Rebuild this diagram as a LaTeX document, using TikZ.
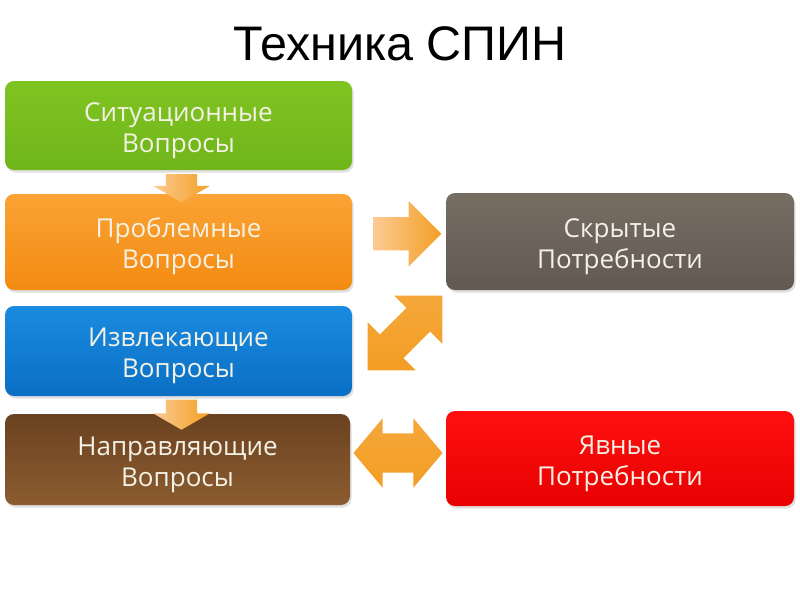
\documentclass[tikz,border=0pt]{standalone}
\usepackage{fontspec}
\setmainfont{Open Sans}
\newfontfamily\titlefont{Liberation Sans}
\usetikzlibrary{shapes.arrows,shadows,calc}

\definecolor{boxtext}{HTML}{F4F1E6}
\definecolor{arrowlight}{HTML}{FCCB93}
\definecolor{arrowdark}{HTML}{F39E24}

%	two lines of box text, set a little low
\newcommand{\twolines}[2]{\raisebox{0pt}[\height][\dimexpr\depth-10pt\relax]{\begin{tabular}{@{}c@{}}#1\\#2\end{tabular}}}

\tikzset{
	box/.style = {rounded corners = 9pt, minimum width = 347pt, minimum height = 92pt,
		inner sep = 0pt, text = boxtext,
		font = \fontsize{26}{31}\selectfont,
		drop shadow = {opacity = 0.25, shadow xshift = 1.5pt, shadow yshift = -2.5pt}},
	downarrow/.style = {single arrow, inner xsep = 0pt, inner ysep = 15.5pt, rotate = -90,
		single arrow head extend = 12.5pt, single arrow tip angle = 120,
		left color = arrowlight, right color = arrowdark},
	dblarrow/.style = {double arrow, inner xsep = 0pt,
		top color = arrowdark!80!arrowlight, bottom color = arrowdark}
}

\begin{document}
\begin{tikzpicture}[x = 1pt, y = -1pt]
	%	page
	\useasboundingbox[fill = white] (0, 0) rectangle (800, 600);
	
	%	title
	\node (title) at (400, 44) {\titlefont\fontsize{48.5}{48.5}\selectfont Техника СПИН};
	
	%	questions
	\node[box, top color = {rgb,255:red,128;green,196;blue,34}, bottom color = {rgb,255:red,112;green,181;blue,26}, minimum height = 89pt] (sit) at (178.5, 125.5) {\twolines{Ситуационные}{Вопросы}};
	\node[box, top color = {rgb,255:red,250;green,163;blue,52}, bottom color = {rgb,255:red,244;green,139;blue,18}, minimum height = 96pt] (prob) at (178.5, 242) {\twolines{Проблемные}{Вопросы}};
	\node[box, top color = {rgb,255:red,26;green,139;blue,224}, bottom color = {rgb,255:red,10;green,111;blue,196}, minimum height = 90pt] (izv) at (178.5, 351) {\twolines{Извлекающие}{Вопросы}};
	\node[box, top color = {rgb,255:red,106;green,66;blue,32}, bottom color = {rgb,255:red,140;green,92;blue,48}, minimum width = 345pt, minimum height = 91pt] (napr) at (177.5, 459.5) {\twolines{Направляющие}{Вопросы}};
	
	%	needs
	\node[box, top color = {rgb,255:red,118;green,109;blue,99}, bottom color = {rgb,255:red,98;green,90;blue,82}, minimum width = 348pt, minimum height = 97pt] (hid) at (620, 241.5) {\twolines{Скрытые}{Потребности}};
	\node[box, top color = {rgb,255:red,255;green,16;blue,16}, bottom color = {rgb,255:red,232;green,0;blue,0}, minimum width = 348pt, minimum height = 95pt] (expl) at (620, 458.5) {\twolines{Явные}{Потребности}};
	
	%	arrows
	\node[downarrow, minimum height = 28pt] (a1) at ($(sit.south) + (3, 13.5)$) {};
	\node[downarrow, minimum height = 30pt] (a2) at ($(izv.south) + (3, 14)$) {};
	\node[single arrow, inner xsep = 0pt, inner ysep = 16.5pt, minimum height = 68pt,
		single arrow head extend = 16pt, single arrow tip angle = 90,
		left color = arrowlight, right color = arrowdark] (a3) at ($(prob.east)!0.5!(hid.west) + (0, -8)$) {};
	\node[dblarrow, rotate = 45, inner ysep = 16.5pt, minimum height = 106pt,
		double arrow head extend = 17.5pt, double arrow tip angle = 90] (a4) at (405, 333) {};
	\node[dblarrow, inner ysep = 19.5pt, minimum height = 89pt,
		double arrow head extend = 15pt, double arrow tip angle = 100] (a5) at ($(napr.east)!0.5!(expl.west) + (0, -6)$) {};
\end{tikzpicture}
\end{document}
